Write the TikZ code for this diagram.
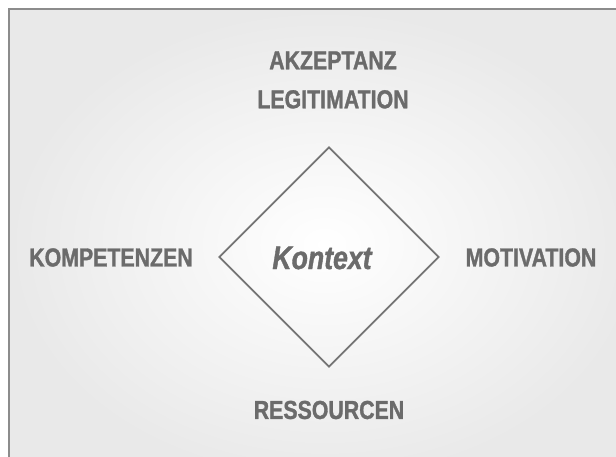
\documentclass[tikz,border=0pt]{standalone}
\usepackage{fontspec}
\setmainfont{Liberation Sans}[FakeStretch=0.82,
    BoldFont=Liberation Sans Bold, BoldItalicFont=Liberation Sans Bold Italic,
    BoldFeatures={FakeBold=1.2}, BoldItalicFeatures={FakeBold=1.2}]
\usepackage{xcolor}
\usepackage{tikz}
\usetikzlibrary{shapes.geometric}

\definecolor{textgrau}{HTML}{6B6B6B}
\definecolor{liniengrau}{HTML}{747474}
\definecolor{rahmengrau}{HTML}{8C8C8C}
\definecolor{randgrau}{HTML}{E9E9E9}

\tikzset{
    begriff/.style={inner sep=0pt, text=textgrau, font=\fontsize{26}{39}\selectfont\bfseries},
    raute/.style={diamond, draw=liniengrau, line width=1.8pt, inner sep=0pt,
        minimum width=220pt, minimum height=220pt}
}

\begin{document}
\begin{tikzpicture}[x=1pt, y=-1pt]
    % 1. Bildausschnitt und Hintergrund mit weichem Verlauf
    \useasboundingbox (0,0) rectangle (616,457);
    \clip (0,0) rectangle (616,457);
    \fill[white] (0,0) rectangle (616,457);
    \shade[inner color=white, outer color=randgrau] (9,9) rectangle (640,480);
    \draw[rahmengrau, line width=2pt] (9,480) -- (9,9) -- (640,9);

    % 2. Raute in der Mitte
    \node[raute] (raute) at (329,257) {};
    \node[begriff, font=\fontsize{32.5}{36}\selectfont\bfseries\itshape] (kontext) at (322,258) {Kontext};

    % 3. Die vier Begriffe rund um die Raute
    \node[begriff, align=center] (akzeptanz) at (333,80) {AKZEPTANZ\\LEGITIMATION};
    \node[begriff] (kompetenzen) at (111,257.5) {KOMPETENZEN};
    \node[begriff] (motivation) at (531,257.5) {MOTIVATION};
    \node[begriff] (ressourcen) at (329,410) {RESSOURCEN};
\end{tikzpicture}
\end{document}
